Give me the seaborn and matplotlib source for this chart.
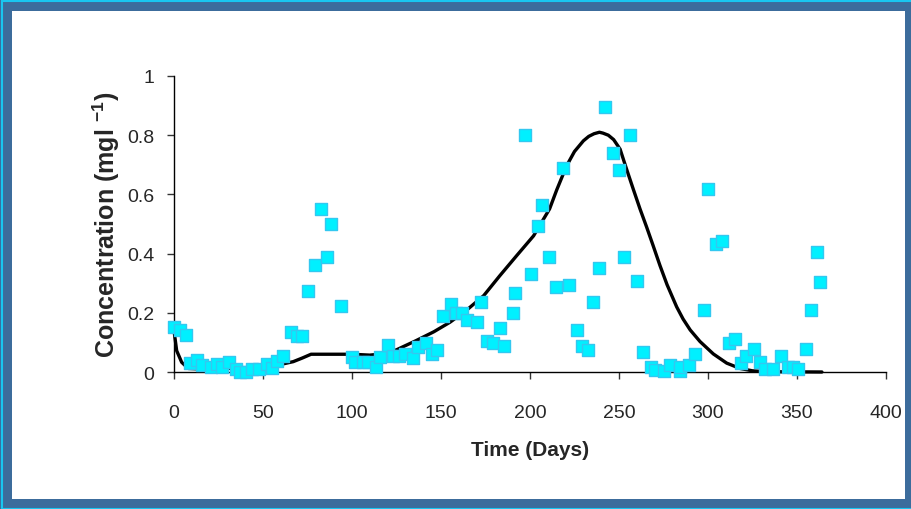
import matplotlib
matplotlib.use("Agg")
import matplotlib.pyplot as plt
import seaborn as sns
import pandas as pd
from matplotlib.patches import Rectangle

# Observed concentrations (squares)
obs_days = [0, 3.4, 6.6, 9, 13, 16, 20.6, 24, 27, 31, 35, 37, 40.4, 44, 48, 52, 55, 58, 61,
            65.5, 69, 72, 75, 79, 82.6, 85.8, 88, 94, 100, 101.7, 106, 109, 113.5, 115.7,
            120, 123, 126.6, 129.8, 134, 137, 141.6, 144.8, 148, 151.3, 155.4, 158.4, 162,
            164.8, 170.4, 172.5, 175.7, 179.4, 183, 185.4, 190.6, 191.7, 197, 200.4, 204.7,
            207, 210.8, 214.6, 218.7, 221.7, 226.2, 229.4, 232.6, 235.6, 239, 242, 246.8,
            249.8, 252.8, 256.2, 260.3, 263.7, 267.8, 270.2, 275.5, 278.7, 284, 284.3,
            289.5, 292.7, 298, 299.8, 304.5, 307.7, 312, 315.2, 318.4, 321.3, 325.8, 329.2,
            332, 336.3, 340.8, 344.8, 347.6, 350.4, 354.9, 357.7, 361, 362.9]
obs_conc = [0.152, 0.143, 0.126, 0.03, 0.042, 0.025, 0.016, 0.027, 0.016, 0.033, 0.01, 0.001,
            0.001, 0.01, 0.01, 0.027, 0.015, 0.038, 0.055, 0.134, 0.12, 0.12, 0.272, 0.36,
            0.55, 0.39, 0.499, 0.222, 0.05, 0.033, 0.033, 0.033, 0.016, 0.05, 0.09, 0.053,
            0.053, 0.06, 0.046, 0.083, 0.098, 0.06, 0.075, 0.19, 0.23, 0.2, 0.2, 0.177, 0.17,
            0.238, 0.104, 0.097, 0.148, 0.089, 0.2, 0.266, 0.8, 0.331, 0.492, 0.564, 0.39,
            0.287, 0.689, 0.294, 0.142, 0.089, 0.075, 0.238, 0.352, 0.894, 0.74, 0.682, 0.39,
            0.8, 0.308, 0.066, 0.018, 0.008, 0.003, 0.025, 0.003, 0.018, 0.025, 0.06, 0.21,
            0.617, 0.434, 0.442, 0.097, 0.111, 0.03, 0.054, 0.077, 0.033, 0.009, 0.009,
            0.054, 0.017, 0.017, 0.009, 0.077, 0.208, 0.404, 0.303]

# Modelled concentration (solid line)
model_days = [0, 1.5, 4.3, 8, 15, 30, 50, 58, 61, 67, 72, 77, 100, 110, 118, 125, 136, 146,
              155, 164, 174, 183, 192.5, 202, 211, 215, 220.6, 225, 230, 233, 236, 239, 241,
              244, 247, 250.6, 254, 258, 261.8, 265.5, 269, 273, 277, 282.4, 286, 290,
              295.5, 303, 310.5, 318, 325, 333, 364]
model_conc = [0.14, 0.072, 0.033, 0.012, 0.01, 0.012, 0.015, 0.022, 0.027, 0.035, 0.047, 0.06,
              0.06, 0.057, 0.062, 0.075, 0.106, 0.136, 0.168, 0.207, 0.258, 0.325, 0.393,
              0.46, 0.551, 0.615, 0.697, 0.745, 0.781, 0.796, 0.805, 0.81, 0.807, 0.80,
              0.785, 0.753, 0.69, 0.618, 0.551, 0.49, 0.43, 0.36, 0.295, 0.22, 0.179,
              0.142, 0.103, 0.061, 0.03, 0.012, 0.004, 0.001, 0.0]

x_ticks = [0, 50, 100, 150, 200, 250, 300, 350, 400]
y_ticks = [0, 0.2, 0.4, 0.6, 0.8, 1.0]
y_tick_labels = ["0", "0.2", "0.4", "0.6", "0.8", "1"]

sns.set_theme(style="white")
plt.rcParams["font.family"] = ["Liberation Sans", "DejaVu Sans"]
plt.rcParams["mathtext.fontset"] = "custom"
plt.rcParams["mathtext.rm"] = "Liberation Sans"
plt.rcParams["mathtext.bf"] = "Liberation Sans:bold"

W, H = 911, 510
fig = plt.figure(figsize=(W / 100, H / 100), dpi=100)
fig.patch.set_facecolor("#3C6C9C")
# frame: cyan thin line + white panel (behind the axes)
fig.patches.append(Rectangle((2 / W, 0), 1, 1 - 2 / H, transform=fig.transFigure,
                             facecolor="none", edgecolor="#19C6F0", linewidth=1.5, zorder=-2))
fig.patches.append(Rectangle((12 / W, 10 / H), (905 - 12) / W, (500 - 12) / H,
                             transform=fig.transFigure, facecolor="white",
                             edgecolor="none", zorder=-1))

ax = fig.add_axes([174 / W, (H - 373) / H, 712 / W, 296 / H])
ax.set_facecolor("none")

df_model = pd.DataFrame({"day": model_days, "conc": model_conc})
df_obs = pd.DataFrame({"day": obs_days, "conc": obs_conc})

sns.lineplot(data=df_model, x="day", y="conc", ax=ax, color="black", linewidth=2.4,
             zorder=2, clip_on=False)
sns.scatterplot(data=df_obs, x="day", y="conc", ax=ax, marker="s", s=66,
                color="#00F0FF", edgecolor="#33C8F0", linewidth=1.0, zorder=3, clip_on=False)

ax.set_xlim(0, 400)
ax.set_ylim(0, 1)
ax.set_xticks(x_ticks)
ax.set_xticklabels([str(t) for t in x_ticks])
ax.set_yticks(y_ticks)
ax.set_yticklabels(y_tick_labels)

for s in ["top", "right"]:
    ax.spines[s].set_visible(False)
for s in ["left", "bottom"]:
    ax.spines[s].set_color("black")
    ax.spines[s].set_linewidth(1.0)

ax.tick_params(axis="x", direction="out", length=5, width=1, color="#333333",
               labelsize=14, pad=18, bottom=True)
ax.tick_params(axis="y", direction="out", length=5, width=1, color="#333333",
               labelsize=14, pad=9, left=True)

ax.set_xlabel("Time (Days)", fontsize=15, fontweight="bold", labelpad=14)
ax.set_ylabel(r"Concentration (mgl $^{\mathbf{-1}}$)", fontsize=18, fontweight="bold",
              labelpad=4)

fig.savefig("out.png", dpi=100, facecolor=fig.get_facecolor())
